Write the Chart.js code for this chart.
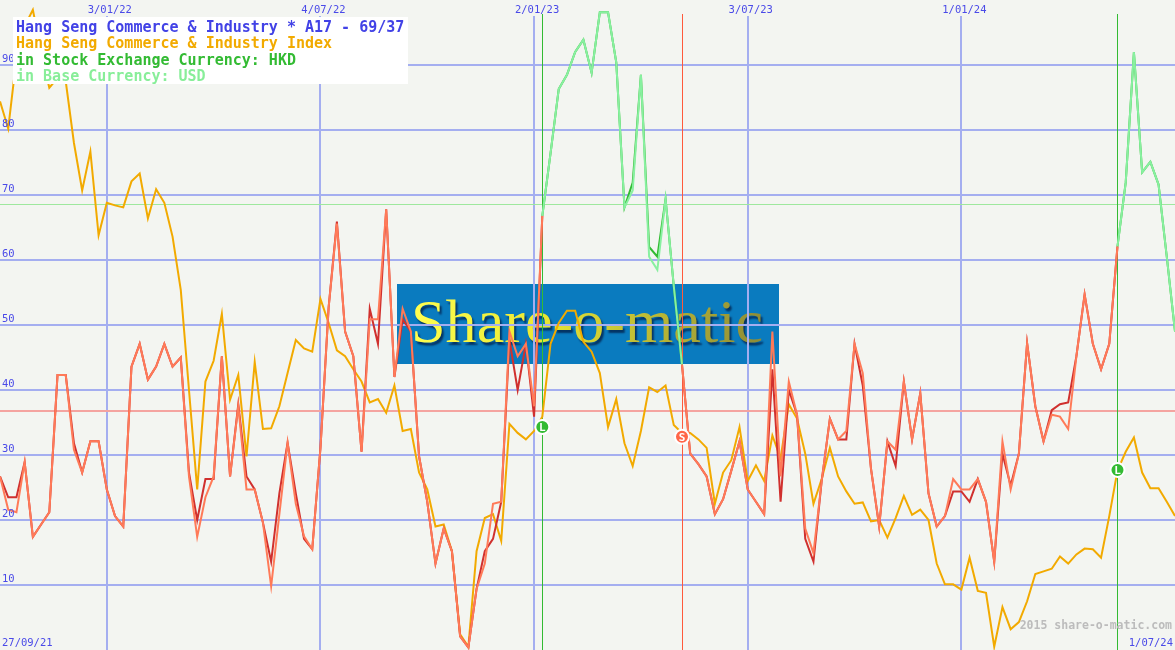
<!DOCTYPE html>
<html>
<head>
<meta charset="utf-8">
<script src="https://cdn.jsdelivr.net/npm/chart.js@4.4.1/dist/chart.umd.min.js"></script>
<style>
    html, body { margin: 0; padding: 0; background: #f3f5f1; }
    #wrap { width: 1175px; height: 650px; }
</style>
</head>
<body>
<div id="wrap"><canvas id="smChart" width="1175" height="650"></canvas></div>
<script>
// weekly points, index 0 = left edge
const titleLines = [
    "Hang Seng Commerce & Industry * A17 - 69/37",
    "Hang Seng Commerce & Industry Index",
    "in Stock Exchange Currency: HKD",
    "in Base Currency: USD",
];
const dateLabels = ["3/01/22", "4/07/22", "2/01/23", "3/07/23", "1/01/24"];
const dateLabelIdx = [13, 39, 65, 91, 117];
const firstDate = "27/09/21";
const lastDate = "1/07/24";
const yTicks = [10, 20, 30, 40, 50, 60, 70, 80, 90];
const thresholds = [68.6, 36.7];

const indexValues = [
    84.4, 80.2, 91, 96, 98.5, 92, 86.5, 88, 87.5, 78,
    70.7, 76.7, 63.8, 68.8, 68.4, 68.1, 72.1, 73.3, 66.4, 70.9,
    68.8, 63.6, 55.4, 40, 24.7, 41.3, 44.5, 51.7, 38.5, 42.3,
    29.8, 44.3, 34, 34.1, 37.5, 42.6, 47.7, 46.4, 45.9, 54,
    50.3, 46.1, 45.2, 43.2, 41.3, 38.1, 38.6, 36.5, 40.7, 33.7,
    34, 27.3, 24.7, 19, 19.3, 15.2, 2.4, 0.5, 15.2, 20.3,
    20.9, 16.8, 34.8, 33.4, 32.4, 33.7, 35.9, 47.1, 50.3, 52.2,
    52.2, 47.4, 45.9, 42.6, 34.3, 38.6, 31.8, 28.3, 33.7, 40.4,
    39.7, 40.7, 34.6, 33.4, 33.4, 32.4, 31.1, 22.5, 27.3, 29.2,
    34.3, 26, 28.4, 26, 33, 29.5, 37.8, 35.6, 30.2, 22.5,
    26.3, 31.1, 26.7, 24.4, 22.5, 22.7, 19.8, 20, 17.3, 20.3,
    23.7, 20.8, 21.6, 20, 13.3, 10.1, 10.1, 9.3, 14.2, 9.1,
    8.8, 0.5, 6.6, 3.2, 4.3, 7.5, 11.7, 12.1, 12.5, 14.4,
    13.3, 14.7, 15.6, 15.5, 14.2, 20.6, 27.6, 30.5, 32.7, 27.3,
    24.9, 24.9, 22.8, 20.6,
];

const hkdValues = [
    26.7, 23.5, 23.5, 28.9, 17.4, 19.3, 21.2, 42.3, 42.3, 31.8,
    27.3, 32.1, 32.1, 24.7, 20.6, 19, 43.6, 47.1, 41.6, 43.6,
    47.1, 43.6, 45, 27.3, 20, 26.3, 26.3, 45.2, 26.7, 37.8,
    26.7, 24.7, 19.6, 13.6, 24.1, 31.9, 24.1, 17.1, 15.5, 31.1,
    52.8, 65.9, 49, 45.2, 30.5, 52.5, 47.1, 67.8, 42, 50.9,
    49, 29.8, 22.8, 13.3, 18.7, 15.2, 2.1, 0.4, 9.4, 15.2,
    17.1, 22.8, 47.7, 40, 47.1, 35.9, 66.8, 76.4, 86.3, 88.5,
    92, 93.9, 88.8, 98.1, 98.1, 90.4, 68.1, 71.9, 88.5, 62,
    60.5, 69.4, 56, 43.9, 30.2, 28.6, 26.7, 20.9, 23.2, 27.6,
    32.1, 24.7, 22.8, 20.9, 43.2, 22.8, 40, 36.2, 17.1, 13.6,
    26, 35.6, 32.4, 32.4, 47.1, 40.7, 27.9, 19, 32.1, 28.3,
    41.3, 32.4, 39.5, 24.1, 19, 20.6, 24.4, 24.4, 22.8, 26.3,
    22.8, 13.6, 30.2, 25.3, 30.2, 47.2, 37.5, 32.1, 36.9, 37.8,
    38.1, 45.2, 54.7, 47.1, 43.2, 47.1, 62.1, 71.9, 92, 73.5,
    75.1, 71.6, 60.5, 49,
];

const usdValues = [
    26.7, 21.6, 21.2, 28.9, 17.4, 19.3, 21.2, 42.3, 42.3, 30.8,
    27.3, 32.1, 32.1, 24.7, 20.6, 19, 43.6, 47.1, 41.6, 43.6,
    47.1, 43.6, 45, 26.7, 17.4, 23.5, 26.7, 45.2, 26.7, 37.5,
    24.7, 24.7, 19.6, 9.8, 20.9, 31.9, 22.5, 17.5, 15.5, 31.1,
    52.8, 65.6, 49, 45.2, 30.5, 50.9, 50.9, 67.8, 42, 52.5,
    49, 29.8, 22.8, 13.3, 18.7, 15.2, 2.1, 0.4, 9.4, 13.3,
    22.5, 22.8, 49, 45.2, 47.1, 37.5, 66.8, 76.4, 86.3, 88.5,
    92, 93.9, 88.8, 98.1, 98.1, 90.4, 68.1, 70.7, 88.5, 60.5,
    58.5, 69.4, 56, 43.9, 30.2, 28.6, 26.7, 20.9, 23.2, 27.6,
    32.1, 24.7, 22.8, 20.9, 49, 26.7, 41.3, 36.2, 18.7, 14.9,
    26, 35.6, 32.4, 33.7, 47.1, 42.6, 27.9, 19, 32.1, 30.8,
    41.3, 32.4, 39.5, 24.1, 19, 20.6, 26.3, 24.7, 24.7, 26.3,
    22.8, 13.6, 32.1, 24.7, 30.2, 47.2, 37.5, 32.1, 36.2, 35.9,
    34, 45.2, 54.7, 47.1, 43.2, 47.1, 62.1, 71.9, 92, 73.5,
    75.1, 71.6, 60.5, 49,
];

// long periods (L ... S)
const longFrom = [66, 136];
const longTo = [83, 144];

const signalIdx = [66, 83, 136];
const signalValue = [34.3, 32.8, 27.7];
const signalText = ["L", "S", "L"];

const BG = "#f3f5f1";
const GRID = "#a4aef0";
const LABEL = "#4a4ae8";
const MONO = "'DejaVu Sans Mono', monospace";

function isLong(i) {
    for (let k = 0; k < longFrom.length; k++) {
        if (i >= longFrom[k] && i < longTo[k]) return true;
    }
    return false;
}

function points(values) {
    return values.map((v, i) => ({ x: i, y: v }));
}

const backdrop = {
    id: "backdrop",
    beforeDatasetsDraw(chart) {
        const { ctx, scales: { x, y }, width, height } = chart;
        ctx.save();
        ctx.fillStyle = BG;
        ctx.fillRect(0, 0, width, height);

        // watermark
        ctx.fillStyle = "#0a7bbf";
        ctx.fillRect(397, 284, 382, 80);
        ctx.font = "62px 'Liberation Serif', serif";
        const w = ctx.measureText("Share-o-matic").width;
        ctx.save();
        ctx.translate(411, 342);
        ctx.scale(352 / w, 1);
        const g = ctx.createLinearGradient(0, -42, w, 4);
        g.addColorStop(0, "#ffff50");
        g.addColorStop(0.35, "#ecea34");
        g.addColorStop(1, "#8c8a36");
        ctx.shadowColor = "rgba(0,20,60,0.7)";
        ctx.shadowOffsetX = 2;
        ctx.shadowOffsetY = 3;
        ctx.shadowBlur = 2;
        ctx.fillStyle = g;
        ctx.fillText("Share-o-matic", 0, 0);
        ctx.restore();

        // grid
        ctx.fillStyle = GRID;
        yTicks.forEach((t) => {
            const py = Math.round(y.getPixelForValue(t));
            ctx.fillRect(0, py - 1, width, 2);
        });
        dateLabelIdx.forEach((d) => {
            const px = Math.round(x.getPixelForValue(d));
            ctx.fillRect(px - 1, 16, 2, height - 16);
        });

        // thresholds
        ctx.fillStyle = "#9ee89e";
        ctx.fillRect(0, Math.round(y.getPixelForValue(thresholds[0])), width, 1);
        ctx.fillStyle = "#f4a4a0";
        ctx.fillRect(0, Math.round(y.getPixelForValue(thresholds[1])) - 1, width, 2);

        // signal verticals
        signalText.forEach((s, k) => {
            const px = Math.round(x.getPixelForValue(signalIdx[k]));
            ctx.fillStyle = s === "L" ? "#33bb33" : "#ff5a3c";
            ctx.fillRect(px, 14, 1, height - 14);
        });
        ctx.restore();
    },
    afterDatasetsDraw(chart) {
        const { ctx } = chart;
        const meta = chart.getDatasetMeta(3);
        ctx.save();
        ctx.font = "bold 11px " + MONO;
        ctx.fillStyle = "#ffffff";
        ctx.textAlign = "center";
        ctx.textBaseline = "middle";
        meta.data.forEach((pt, k) => ctx.fillText(signalText[k], pt.x, pt.y + 1));
        ctx.restore();
    },
    afterDraw(chart) {
        const { ctx, scales: { x, y }, width } = chart;
        ctx.save();

        // axis labels
        ctx.font = "10.5px " + MONO;
        ctx.fillStyle = LABEL;
        ctx.textBaseline = "alphabetic";
        ctx.textAlign = "left";
        yTicks.forEach((t) => ctx.fillText(String(t), 2, y.getPixelForValue(t) - 3));
        ctx.fillText(firstDate, 2, 646);
        ctx.textAlign = "right";
        ctx.fillText(lastDate, width - 2, 646);
        ctx.textAlign = "center";
        dateLabels.forEach((lab, k) => ctx.fillText(lab, x.getPixelForValue(dateLabelIdx[k]) + 3, 13));

        ctx.font = "bold 11.5px " + MONO;
        ctx.fillStyle = "#bcbcbc";
        ctx.textAlign = "right";
        ctx.fillText("2015 share-o-matic.com", 1172, 629);

        // title box
        ctx.fillStyle = "#ffffff";
        ctx.fillRect(13, 17, 395, 67);
        const colors = ["#4242e6", "#f2aa00", "#33bb33", "#88ee99"];
        ctx.font = "bold 15px " + MONO;
        ctx.textAlign = "left";
        ctx.textBaseline = "middle";
        titleLines.forEach((t, k) => {
            ctx.fillStyle = colors[k];
            ctx.fillText(t, 16, 28 + k * 16.4);
        });
        ctx.restore();
    },
};

new Chart(document.getElementById("smChart").getContext("2d"), {
    type: "line",
    data: {
        datasets: [
            {
                label: "Index",
                data: points(indexValues),
                borderColor: "#f2aa00",
                borderWidth: 2,
                pointRadius: 0,
                order: 4,
            },
            {
                label: "HKD",
                data: points(hkdValues),
                borderWidth: 2,
                pointRadius: 0,
                borderColor: "#d0302e",
                segment: {
                    borderColor: (c) => (isLong(c.p0DataIndex) ? "#33bb33" : "#d0302e"),
                },
                order: 3,
            },
            {
                label: "USD",
                data: points(usdValues),
                borderWidth: 2,
                pointRadius: 0,
                borderColor: "#ff7a58",
                segment: {
                    borderColor: (c) => (isLong(c.p0DataIndex) ? "#88f0a0" : "#ff7a58"),
                },
                order: 2,
            },
            {
                label: "Signals",
                data: signalIdx.map((s, k) => ({ x: s, y: signalValue[k] })),
                showLine: false,
                pointRadius: 7,
                pointBorderWidth: 2,
                pointBorderColor: "#ffffff",
                pointBackgroundColor: signalText.map((s) => (s === "L" ? "#33bb33" : "#ff6648")),
                order: 1,
            },
        ],
    },
    options: {
        responsive: false,
        animation: false,
        devicePixelRatio: 1,
        layout: { padding: 0, autoPadding: false },
        elements: { line: { tension: 0 } },
        scales: {
            x: { type: "linear", min: 0, max: 143, display: false },
            y: { min: 0, max: 100, display: false },
        },
        plugins: {
            legend: { display: false },
            tooltip: { enabled: false },
        },
    },
    plugins: [backdrop],
});
</script>
</body>
</html>
